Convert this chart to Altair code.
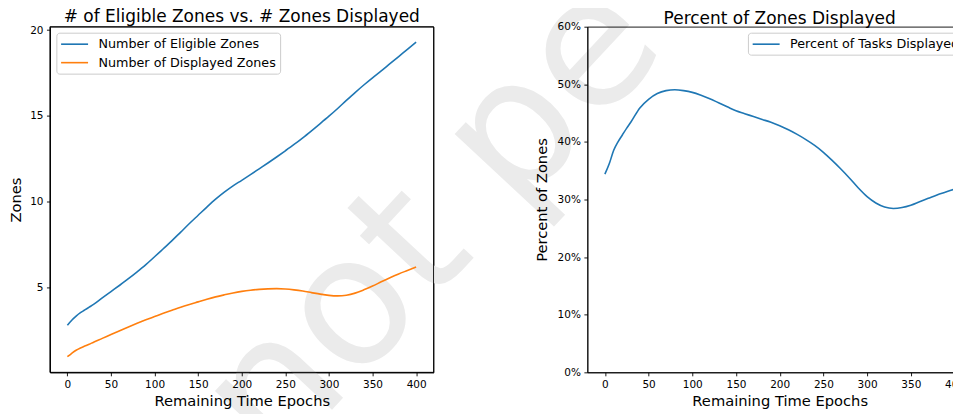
import altair as alt
import pandas as pd

# ---------------- data ----------------
T = [0, 5, 10, 15, 20, 25, 30, 40, 50, 60, 70, 80, 90, 100, 110, 120, 130, 140,
     150, 160, 170, 180, 190, 200, 210, 220, 230, 240, 250, 260, 270, 280, 290,
     300, 310, 320, 330, 340, 350, 360, 370, 380, 390, 400]
ELIGIBLE = [2.79, 3.08, 3.32, 3.52, 3.68, 3.84, 4.00, 4.38, 4.75, 5.12, 5.50, 5.90,
            6.32, 6.78, 7.25, 7.72, 8.22, 8.72, 9.20, 9.68, 10.14, 10.55, 10.92,
            11.24, 11.57, 11.91, 12.25, 12.60, 12.96, 13.33, 13.72, 14.13, 14.55,
            14.98, 15.43, 15.90, 16.36, 16.80, 17.22, 17.62, 18.04, 18.46, 18.88, 19.30]
DISPLAYED = [0.95, 1.15, 1.33, 1.46, 1.57, 1.68, 1.80, 2.02, 2.25, 2.47, 2.69, 2.90,
             3.10, 3.29, 3.48, 3.66, 3.84, 4.00, 4.15, 4.30, 4.44, 4.56, 4.67, 4.76,
             4.83, 4.88, 4.91, 4.92, 4.90, 4.85, 4.78, 4.69, 4.60, 4.53, 4.50, 4.54,
             4.66, 4.85, 5.07, 5.32, 5.56, 5.78, 5.98, 6.18]
PERCENT = [34.4, 36.2, 38.5, 40.0, 41.2, 42.4, 43.5, 45.9, 47.4, 48.4, 48.9, 49.05,
           48.9, 48.6, 48.1, 47.5, 46.8, 46.1, 45.4, 44.9, 44.4, 43.9, 43.4, 42.8,
           42.1, 41.3, 40.4, 39.4, 38.2, 36.8, 35.3, 33.7, 32.0, 30.5, 29.4, 28.7,
           28.45, 28.6, 29.0, 29.6, 30.2, 30.8, 31.3, 31.8]

SERIES_LEFT = ["Number of Eligible Zones", "Number of Displayed Zones"]
SERIES_RIGHT = ["Percent of Tasks Displayed"]
X_TICKS = [0, 50, 100, 150, 200, 250, 300, 350, 400]
Y_TICKS_LEFT = [5, 10, 15, 20]
Y_TICKS_RIGHT = [0, 0.1, 0.2, 0.3, 0.4, 0.5, 0.6]
TITLES = ["# of Eligible Zones vs. # Zones Displayed", "Percent of Zones Displayed"]
X_TITLE = "Remaining Time Epochs"
Y_TITLES = ["Zones", "Percent of Zones"]
WATERMARK = ["not peer reviewed"]

# ---------------- styling ----------------
BLUE = "#1f77b4"
ORANGE = "#ff7f0e"
FONT = "DejaVu Sans"
W, H = 384, 346
WR = 385

left_df = pd.DataFrame({
    "t": T + T,
    "v": ELIGIBLE + DISPLAYED,
    "s": [SERIES_LEFT[0]] * len(T) + [SERIES_LEFT[1]] * len(T),
})
right_df = pd.DataFrame({
    "t": T,
    "v": [p / 100 for p in PERCENT],
    "s": SERIES_RIGHT * len(T),
})
wm_df = pd.DataFrame({"text": WATERMARK})


def make_legend(x, y):
    return alt.Legend(
        title=None, orient="none", legendX=x, legendY=y,
        symbolType="M-2,0L2,0", symbolSize=182.25, symbolStrokeWidth=1.6,
        symbolOffset=6.75,
        labelFont=FONT, labelFontSize=12.75, labelColor="black", labelOffset=15.95,
        labelLimit=400,
        padding=3.5, rowPadding=3.5, fillColor="white", strokeColor="#cccccc",
        cornerRadius=3,
    )


def x_enc():
    return alt.X("t:Q", scale=alt.Scale(domain=[-20, 420], nice=False, zero=False),
                 axis=alt.Axis(values=X_TICKS, title=X_TITLE, zindex=1))


watermark = alt.Chart(wm_df).mark_text(
    font=FONT, fontSize=180, color="#ebebeb", angle=313, align="left",
    baseline="alphabetic", limit=630, ellipsis="\u200b",
).encode(text="text:N", x=alt.value(226.1), y=alt.value(443.8))

lines_left = alt.Chart(left_df).mark_line(strokeWidth=1.6, interpolate="monotone").encode(
    x=x_enc(),
    y=alt.Y("v:Q", scale=alt.Scale(domain=[0.04, 20.2], nice=False, zero=False),
            axis=alt.Axis(values=Y_TICKS_LEFT, title=Y_TITLES[0], zindex=1)),
    color=alt.Color("s:N", scale=alt.Scale(domain=SERIES_LEFT, range=[BLUE, ORANGE]),
                    legend=make_legend(6.4, 6)),
)

frame = alt.Chart(alt.Data(values=[{}])).mark_rect(
    filled=False, stroke="black", strokeWidth=0.9
).encode(x=alt.value(0), x2=alt.value(W), y=alt.value(0), y2=alt.value(H))

left = alt.layer(watermark, lines_left, frame).properties(
    width=W, height=H, title=alt.TitleParams(TITLES[0], offset=-75.45)
)

right = alt.Chart(right_df).mark_line(strokeWidth=1.6, interpolate="monotone", color=BLUE).encode(
    x=x_enc(),
    y=alt.Y("v:Q", scale=alt.Scale(domain=[0, 0.6], nice=False, zero=False),
            axis=alt.Axis(values=Y_TICKS_RIGHT, format=".0%", title=Y_TITLES[1],
                          zindex=1, titlePadding=8)),
    color=alt.Color("s:N", scale=alt.Scale(domain=SERIES_RIGHT, range=[BLUE]),
                    legend=make_legend(160.7, 6)),
).properties(width=WR, height=H, title=alt.TitleParams(TITLES[1], offset=-6))

chart = alt.hconcat(left, right, spacing=154, bounds="flush").resolve_scale(
    color="independent", x="independent", y="independent"
).resolve_legend(color="independent").properties(
    padding={"left": 0, "top": -58.5, "right": -20, "bottom": -77.7}
).configure_view(
    stroke="black", strokeWidth=0.9
).configure_axis(
    labelFont=FONT, labelFontSize=10.5, labelColor="black", labelPadding=3.5,
    titleFont=FONT, titleFontSize=14.7, titleFontWeight="normal", titleColor="black",
    tickSize=3.5, tickColor="black", tickWidth=0.9,
    domainColor="black", domainWidth=0.9, grid=False,
).configure_axisY(titlePadding=6).configure_axisX(titlePadding=4).configure_title(
    font=FONT, fontSize=17, fontWeight="normal", color="black",
    anchor="middle", baseline="alphabetic", frame="group",
)

chart.save("out.html", embed_options={"renderer": "svg", "actions": False})
